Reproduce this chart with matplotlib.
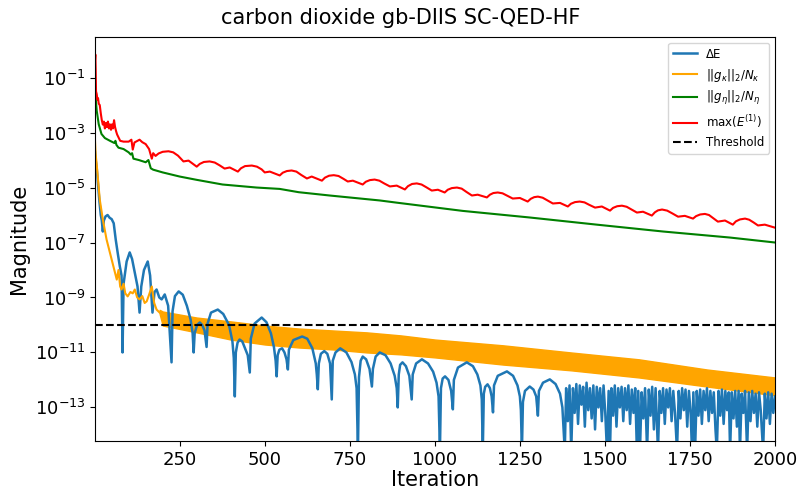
import numpy as np
import matplotlib
matplotlib.use('Agg')
import matplotlib.pyplot as plt
from matplotlib.ticker import NullLocator

# values are log10 of the magnitude
red_iter = [1, 2, 3, 4, 6, 8, 10, 12, 15, 18,
            21, 24, 27, 30, 33, 36, 39, 42, 45, 48,
            51, 54, 57, 60, 63, 66, 75, 85, 100, 108,
            112, 117, 132, 140, 150, 160, 168, 172, 179, 188,
            200, 217, 231, 245, 261, 276,
            300, 309, 321, 338, 353, 367, 382, 397,
            421, 430, 442, 462, 477, 491, 500, 515,
            544, 553, 565, 579, 593, 607, 624, 638,
            668, 677, 689, 703, 717, 731, 744, 759,
            788, 797, 809, 823, 837, 851, 868, 888,
            912, 921, 933, 947, 961, 975, 991, 1009,
            1029, 1038, 1050, 1065, 1079, 1093, 1109, 1126,
            1153, 1162, 1172, 1185, 1199, 1213, 1229, 1250,
            1273, 1282, 1292, 1303, 1317, 1331, 1347, 1368,
            1391, 1400, 1412, 1426, 1440, 1454, 1471, 1491,
            1515, 1524, 1536, 1550, 1564, 1578, 1594, 1612,
            1638, 1647, 1656, 1668, 1683, 1698, 1715, 1735,
            1759, 1768, 1780, 1794, 1806, 1818, 1832, 1853,
            1876, 1885, 1897, 1912, 1924, 1937, 1950, 1970, 2000]
red_exp = [-0.35, -0.16, -0.7, -1.5, -1.6, -1.8, -1.75, -1.95, -2.0, -2.3,
           -2.55, -2.71, -2.6, -2.85, -2.65, -2.8, -2.6, -2.85, -2.7, -2.9,
           -2.7, -2.85, -2.55, -2.8, -2.95, -3.07, -3.3, -3.33, -3.33, -3.26,
           -3.62, -3.36, -3.26, -3.35, -3.42, -3.6, -3.95, -3.75, -3.85, -3.76,
           -3.70, -3.68, -3.72, -3.84, -4.05, -4.02,
           -4.24, -4.14, -4.07, -4.05, -4.09, -4.19, -4.31, -4.27,
           -4.42, -4.30, -4.22, -4.20, -4.24, -4.34, -4.45, -4.42,
           -4.56, -4.46, -4.40, -4.38, -4.42, -4.54, -4.67, -4.60,
           -4.75, -4.64, -4.57, -4.55, -4.58, -4.68, -4.78, -4.75,
           -4.89, -4.79, -4.73, -4.71, -4.75, -4.85, -4.96, -4.93,
           -5.07, -4.95, -4.87, -4.85, -4.89, -4.99, -5.11, -5.08,
           -5.18, -5.08, -5.02, -5.00, -5.04, -5.16, -5.29, -5.26,
           -5.36, -5.26, -5.20, -5.18, -5.21, -5.30, -5.40, -5.38,
           -5.51, -5.41, -5.35, -5.33, -5.37, -5.47, -5.58, -5.56,
           -5.69, -5.59, -5.53, -5.51, -5.54, -5.63, -5.73, -5.69,
           -5.84, -5.74, -5.68, -5.66, -5.70, -5.80, -5.91, -5.88,
           -6.02, -5.90, -5.83, -5.80, -5.84, -5.94, -6.06, -6.03,
           -6.13, -6.04, -5.98, -5.96, -6.00, -6.11, -6.24, -6.20,
           -6.35, -6.23, -6.16, -6.13, -6.17, -6.27, -6.38, -6.35, -6.46]

green_iter = [1, 3, 6, 12, 20, 30, 45, 58, 61, 64, 70, 85, 100, 106, 110, 114,
              130, 150, 158, 165, 172, 200, 250, 300, 376, 476, 544, 600, 691,
              838, 888, 1082, 1279, 1476, 1671, 1868, 2000]
green_exp = [-1.55, -1.75, -2.2, -2.7, -3.05, -3.2, -3.3, -3.38, -3.3, -3.45,
             -3.55, -3.6, -3.72, -3.8, -3.75, -3.95, -4.0, -4.08, -4.0, -4.3,
             -4.35, -4.45, -4.6, -4.72, -4.89, -5.0, -5.05, -5.17, -5.29,
             -5.47, -5.55, -5.85, -6.09, -6.35, -6.60, -6.82, -7.0]

orange_iter = [1, 3, 6, 15, 24, 35, 50, 65, 70, 75, 79, 85, 90, 97, 105, 112,
               118, 125, 132, 140, 147, 153, 160, 168, 175, 182, 191]
orange_exp = [-3.3, -3.8, -4.16, -5.44, -6.16, -6.89, -7.62, -8.35, -8.0, -8.6,
              -8.71, -8.5, -8.85, -8.96, -8.8, -8.85, -8.71, -9.0, -9.07, -8.95,
              -9.2, -9.14, -8.9, -8.6, -9.2, -9.44, -9.55]
# oscillating part: upper and lower edge of the orange band
band_iter = [191, 200, 300, 400, 500, 600, 700, 800, 900, 1000, 1200, 1400, 1600, 1800, 2000]
band_top = [-9.45, -9.51, -9.73, -9.87, -10.02, -10.13, -10.20, -10.27, -10.38,
            -10.53, -10.74, -11.00, -11.25, -11.62, -11.91]
band_bot = [-9.6, -10.02, -10.27, -10.53, -10.71, -10.82, -10.89, -11.00, -11.07,
            -11.18, -11.44, -11.65, -11.91, -12.24, -12.56]

blue_iter = [1, 3, 6, 10, 14, 18, 21, 24, 27, 32, 38, 44, 50, 56, 62, 68, 74, 79,
             82, 85, 94, 103, 110, 118, 126, 132, 137, 145, 156, 163, 170, 176,
             182, 190, 197, 206, 216, 226, 229, 236, 247, 259, 271, 282, 288, 291,
             294, 301, 309, 316, 323, 329, 332, 342, 362, 378, 395, 405, 409, 412,
             415, 420, 426, 434, 442, 450, 456, 459, 470, 491, 505, 518, 527, 532, 535,
             538, 543, 551, 558, 564, 568, 571, 584, 610, 625, 640, 650, 653, 656,
             659, 665, 675, 684, 692, 697, 700, 708, 722, 740, 755, 765, 770, 774,
             777, 782, 788, 798, 808, 815, 818, 826, 838, 855, 870, 882, 888, 891,
             894, 898, 905, 915, 925, 932, 935, 945, 962, 980, 995, 1005, 1011, 1015,
             1018, 1023, 1030, 1040, 1048, 1053, 1056, 1068, 1094, 1112, 1125, 1134,
             1138, 1141,
             1144, 1148, 1155, 1162, 1167, 1171, 1174, 1185, 1212, 1230, 1243, 1250,
             1253, 1256,
             1259, 1265, 1279, 1290, 1298, 1303, 1306, 1318, 1338, 1355, 1368, 1375,
             1382,
             1386, 1391, 1396, 1401, 1406, 1411, 1416, 1421, 1426, 1431, 1436, 1441,
             1446, 1451, 1456, 1461, 1466, 1471, 1476, 1481, 1486, 1491, 1496, 1501,
             1506, 1511, 1515, 1519, 1524, 1529, 1534, 1539, 1544, 1549, 1554, 1559,
             1564, 1569, 1574, 1579, 1584, 1589, 1594, 1598, 1603, 1608, 1613, 1618,
             1624, 1629, 1634, 1639, 1644, 1649, 1656, 1661, 1666, 1671, 1676, 1681,
             1686, 1691, 1696, 1701, 1706, 1712, 1717, 1722, 1727, 1732, 1737, 1742,
             1747, 1752, 1756, 1760, 1765, 1770, 1775, 1780, 1785, 1790, 1795, 1800,
             1805, 1810, 1815, 1820, 1825, 1829, 1834, 1839, 1844, 1849, 1854, 1859,
             1864, 1868, 1873, 1878, 1883, 1888, 1893, 1897, 1902, 1907, 1912, 1918,
             1923, 1928, 1933, 1938, 1943, 1948, 1953, 1958, 1965, 1970, 1975, 1980,
             1985, 1990, 1995, 2000]
blue_exp = [-3.7, -4.0, -4.3, -4.9, -5.5, -6.0, -6.2, -6.6, -6.2, -6.05, -6.0, -6.1,
            -6.15, -6.3, -6.9, -7.4, -7.87, -8.2,
            -11.0, -8.5, -7.69, -7.36, -7.6, -8.1, -8.6, -9.55, -8.6, -8.0, -7.69,
            -8.2, -9.55, -8.8,
            -8.71, -9.0, -9.07, -8.89, -9.3, -11.36, -9.5, -8.95, -8.78, -8.9, -9.3,
            -9.8, -10.3, -11.0,
            -10.3, -10.0, -9.91, -10.0, -10.2, -10.8, -9.95, -9.55, -9.44, -9.6,
            -10.0, -10.6, -11.2, -12.6,
            -11.0, -10.65, -10.53, -10.6, -10.85, -11.1, -11.73, -10.5, -9.95, -9.73,
            -9.9, -10.3, -10.8, -11.3, -11.87,
            -11.1, -10.9, -10.85, -11.0, -11.25, -11.62, -10.9, -10.55, -10.42, -10.5,
            -10.85, -11.4, -11.8, -12.34,
            -11.4, -11.05, -10.95, -11.05, -11.4, -12.71, -11.3, -11.0, -10.85, -11.0,
            -11.35, -11.8, -12.3, -14.6,
            -11.9, -11.3, -11.15, -11.25, -11.6, -12.24, -11.6, -11.15, -11.0, -11.1,
            -11.4, -11.85, -12.3, -13.0,
            -11.8, -11.45, -11.36, -11.5, -11.85, -12.71, -11.8, -11.4, -11.25, -11.4,
            -11.7, -12.1, -12.6, -14.6,
            -12.3, -11.95, -11.87, -12.0, -12.4, -13.07, -12.0, -11.55, -11.36, -11.5,
            -11.8, -12.2,
            -12.7, -14.6,
            -12.5, -12.25, -12.16, -12.3, -12.6, -13.18, -12.2, -11.85, -11.69, -11.85,
            -12.2, -12.6,
            -13.1, -14.6,
            -12.8, -12.4, -12.24, -12.35, -12.6, -13.3, -12.4, -12.1, -11.98, -12.15,
            -12.5, -13.0,
            -14.6,
            -12.3, -13.5, -12.2, -14.6, -12.3, -13.2, -12.15, -13.6, -12.2, -12.9,
            -12.25, -13.7,
            -12.1, -13.1, -12.3, -13.4, -12.2, -13.8, -12.25, -13.0, -12.3, -13.5,
            -12.2, -13.2,
            -14.6, -12.4, -14.6, -12.3, -13.3, -12.2, -13.7, -12.3, -13.0, -12.25,
            -13.5, -12.3,
            -13.1, -12.2, -13.6, -12.35, -13.2, -12.3, -14.6, -12.4, -14.6, -12.45,
            -13.4, -12.3,
            -14.6, -12.35, -13.3, -12.25, -13.8, -12.3, -14.6, -12.4, -13.2, -12.3,
            -13.6, -12.35,
            -13.0, -12.3, -13.5, -12.4, -13.2, -14.6, -12.4, -13.4, -12.3, -13.1,
            -12.35, -13.7,
            -12.4, -13.2, -14.6, -12.45, -14.6, -12.4, -13.3, -12.35, -13.6, -12.4,
            -13.1, -12.3,
            -13.5, -12.4, -13.2, -12.45, -13.8, -14.6, -12.4, -13.3, -12.35, -13.6,
            -12.4, -13.1,
            -12.45, -14.6, -12.45, -13.4, -12.4, -13.7, -12.4, -14.6, -12.5, -13.2,
            -12.4, -14.6,
            -12.45, -13.5, -12.4, -13.2, -12.5, -13.7, -12.45, -13.1, -14.6, -12.5,
            -13.4, -12.45,
            -13.6, -12.5, -13.2, -12.6]

threshold = 1e-10
xticks = [250, 500, 750, 1000, 1250, 1500, 1750, 2000]
yticks = [1e-1, 1e-3, 1e-5, 1e-7, 1e-9, 1e-11, 1e-13]


def mag(e):
    return np.power(10.0, np.array(e))


fig = plt.figure(figsize=(8.01, 4.91), dpi=100)
ax = fig.add_axes([95 / 801, 50 / 491, 680 / 801, 404 / 491])

ax.plot(blue_iter, mag(blue_exp), color='#1f77b4', lw=1.8, label='ΔE')
ax.plot(orange_iter, mag(orange_exp), color='orange', lw=1.5,
        label=r'$||g_\kappa||_2/N_\kappa$')
ax.fill_between(band_iter, mag(band_bot), mag(band_top), color='orange', lw=1)
ax.plot(green_iter, mag(green_exp), color='green', lw=1.5,
        label=r'$||g_\eta||_2/N_\eta$')
ax.plot(red_iter, mag(red_exp), color='red', lw=1.5, label=r'max($E^{(1)}$)')
ax.axhline(threshold, color='black', ls='--', lw=1.5, label='Threshold')

ax.set_yscale('log')
ax.set_xlim(1, 2000)
ax.set_ylim(6e-15, 3)
ax.set_xticks(xticks)
ax.set_yticks(yticks)
ax.yaxis.set_minor_locator(NullLocator())
ax.tick_params(labelsize=13)
ax.set_xlabel('Iteration', fontsize=15, labelpad=1)
ax.set_ylabel('Magnitude', fontsize=15)
fig.text(0.5, 1 - 24 / 491, 'carbon dioxide gb-DIIS SC-QED-HF', fontsize=15,
         ha='center', va='baseline')
ax.legend(loc='upper right', fontsize=8.5)

fig.savefig('out.png', dpi=100)
